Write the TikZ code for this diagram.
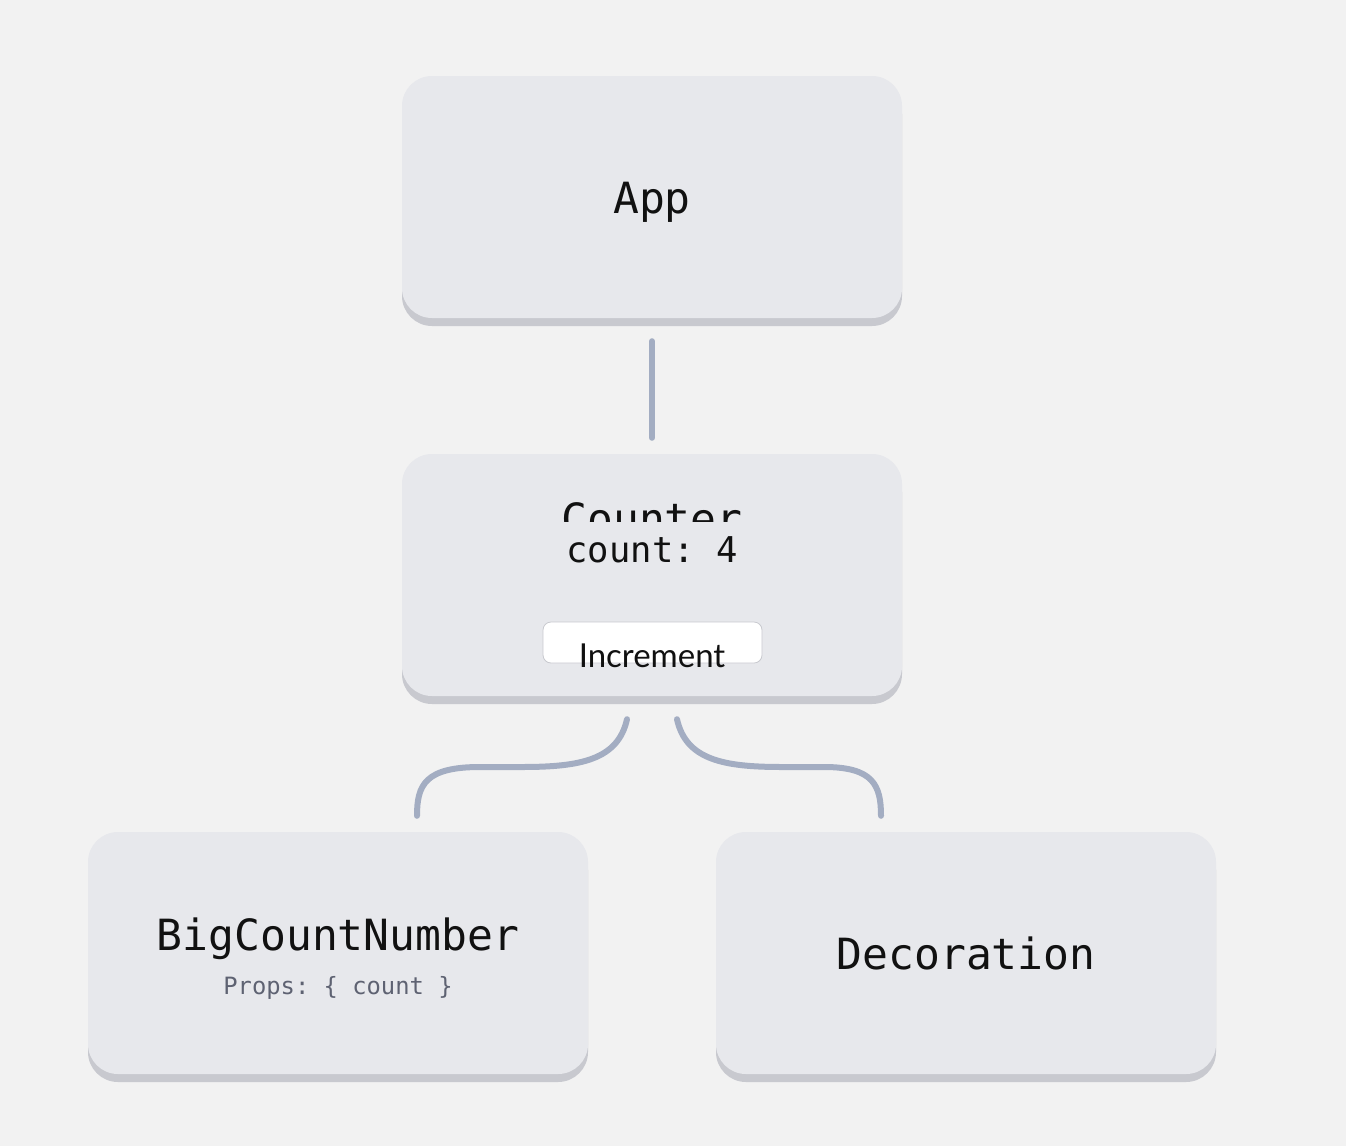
\documentclass[tikz,border=0pt]{standalone}
\usepackage{fontspec}
\setmonofont{DejaVu Sans Mono}
\setsansfont{Lato}
\usetikzlibrary{calc,shadows}

\definecolor{bg}{HTML}{F2F2F2}
\definecolor{boxfill}{HTML}{E7E8EC}
\definecolor{boxshade}{HTML}{C8C9CF}
\definecolor{wire}{HTML}{A3ADC2}
\definecolor{ink}{HTML}{111111}
\definecolor{propsgray}{HTML}{5E6272}

\begin{document}
\begin{tikzpicture}[x=1pt,y=-1pt,
    comp/.style={fill=boxfill,rounded corners=30pt,minimum width=500pt,minimum height=242pt,
        drop shadow={shadow xshift=0pt,shadow yshift=-8pt,fill=boxshade,opacity=1}},
    complabel/.style={text=ink,font=\ttfamily\fontsize{43}{50}\selectfont,anchor=base},
    wireline/.style={draw=wire,line width=6pt,line cap=round}]
    \fill[bg](0,0)rectangle(1346,1146);
    \useasboundingbox(0,0)rectangle(1346,1146);

    \node[comp](app)at(652,197){};
    \node[comp](counter)at(652,575){};
    \node[comp](bigcount)at(338,953){};
    \node[comp](decoration)at(966,953){};

    \node[complabel](applabel)at(652,213){App};
    \begin{scope}
        \clip(402,454)rectangle(902,521);
        \node[complabel](counterlabel)at(652,534){Counter};
    \end{scope}
    \node[complabel,font=\ttfamily\fontsize{35.5}{42}\selectfont](countval)at(652,562){count: 4};
    \node[fill=white,draw=boxshade,line width=0.8pt,rounded corners=8pt,minimum width=219pt,minimum height=41pt](incbtn)at(652.5,642.5){};
    \node[anchor=base,text=ink,font=\sffamily\fontsize{33}{38}\selectfont](inclabel)at(652,667){Increment};
    \node[complabel](bigcountlabel)at(338,950){BigCountNumber};
    \node[complabel,text=propsgray,font=\ttfamily\fontsize{23.8}{28}\selectfont](props)at(338,994){Props: \{ count \}};
    \node[complabel](decorationlabel)at(966,969){Decoration};

    % connectors
    \draw[wireline,shorten <=23pt,shorten >=16pt](app.south)--(counter.north);
    \coordinate(l1)at($(counter.south)+(-25,23)$);
    \coordinate(l2)at($(bigcount.north)+(79,-16)$);
    \coordinate(r1)at($(counter.south)+(25,23)$);
    \coordinate(r2)at($(decoration.north)+(-85,-16)$);
    \draw[wireline](l1)..controls(618,760)and(580,767)..(522,767)--(480,767)..controls(425,767)and(417,785)..(l2);
    \draw[wireline](r1)..controls(686,760)and(724,767)..(782,767)--(824,767)..controls(873,767)and(881,785)..(r2);
\end{tikzpicture}
\end{document}
